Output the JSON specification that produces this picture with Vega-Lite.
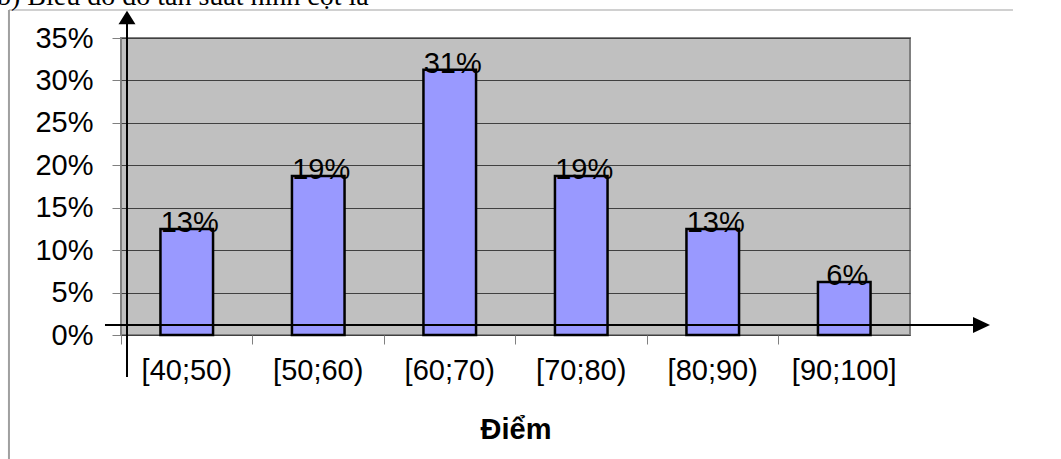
{
  "$schema": "https://vega.github.io/schema/vega-lite/v6.json",
  "width": 789,
  "height": 297,
  "autosize": "none",
  "padding": {"left": 121, "top": 38, "right": 151, "bottom": 124},
  "background": "white",
  "config": {
    "view": {"stroke": "#808080", "strokeWidth": 2, "fill": "#c0c0c0"},
    "font": "Liberation Sans"
  },
  "title": {
    "text": "b) Biểu đồ đo tần suất hình cột là",
    "font": "Liberation Serif",
    "fontSize": 28,
    "fontWeight": "normal",
    "color": "black",
    "anchor": "start",
    "frame": "group",
    "baseline": "alphabetic",
    "offset": 3,
    "dx": -124,
    "dy": 27
  },
  "datasets": {
    "bars": [
      {"bin": "[40;50)", "value": 0.125},
      {"bin": "[50;60)", "value": 0.1875},
      {"bin": "[60;70)", "value": 0.3125},
      {"bin": "[70;80)", "value": 0.1875},
      {"bin": "[80;90)", "value": 0.125},
      {"bin": "[90;100]", "value": 0.0625}
    ],
    "arrows": [
      {"x": -0.0203, "x2": 1.082, "y": 0.0118, "y2": 0.0118},
      {"x": 0.0076, "x2": 0.0076, "y": -0.0495, "y2": 0.3665}
    ],
    "headRight": [{"x": 1.0906, "y": 0.0118}],
    "headUp": [{"x": 0.0076, "y": 0.3742}],
    "frameTop": [{"x": -0.142, "x2": 1.1305, "y": 0.383, "y2": 0.383}],
    "frameLeft": [{"x": -0.142, "x2": -0.142, "y": 0.383, "y2": -0.1461}]
  },
  "layer": [
    {
      "data": {"name": "bars"},
      "encoding": {
        "x": {
          "field": "bin",
          "type": "nominal",
          "sort": null,
          "scale": {"paddingInner": 0, "paddingOuter": 0},
          "axis": {
            "title": "Điểm",
            "labelAngle": 0,
            "labelFontSize": 29,
            "labelColor": "black",
            "labelPadding": 12,
            "ticks": true,
            "bandPosition": 0,
            "tickColor": "#808080",
            "tickSize": 9,
            "tickWidth": 1,
            "tickOpacity": 1,
            "domain": false,
            "grid": false,
            "titleFontSize": 29,
            "titleFontWeight": "bold",
            "titleColor": "black",
            "titleBaseline": "alphabetic",
            "titleY": 103
          }
        },
        "y": {
          "field": "value",
          "type": "quantitative",
          "scale": {"domain": [0, 0.35], "nice": false},
          "axis": {
            "title": null,
            "format": ".0%",
            "values": [0, 0.05, 0.1, 0.15, 0.2, 0.25, 0.3, 0.35],
            "labelFontSize": 29,
            "labelColor": "black",
            "labelPadding": 19,
            "ticks": true,
            "tickColor": "#808080",
            "tickSize": 9,
            "domain": false,
            "grid": true,
            "gridColor": "#404040",
            "gridWidth": 1
          }
        }
      },
      "layer": [
        {"mark": {"type": "bar", "fill": "#9999ff", "stroke": "black", "strokeWidth": 2.5, "width": {"band": 0.4}}},
        {
          "mark": {"type": "text", "fontSize": 29, "baseline": "alphabetic", "align": "center", "dy": 3, "dx": 3, "color": "black"},
          "encoding": {"text": {"field": "value", "format": ".0%"}}
        }
      ]
    },
    {
      "layer": [
        {
          "data": {"name": "frameTop"},
          "mark": {"type": "rule", "stroke": "#d0d0d0", "strokeWidth": 2},
          "encoding": {
            "x": {"field": "x", "type": "quantitative", "scale": {"domain": [0, 1], "nice": false, "zero": false}, "axis": null},
            "x2": {"field": "x2"},
            "y": {"field": "y", "type": "quantitative"},
            "y2": {"field": "y2"}
          }
        },
        {
          "data": {"name": "frameLeft"},
          "mark": {"type": "rule", "stroke": "#a0a0a0", "strokeWidth": 2},
          "encoding": {
            "x": {"field": "x", "type": "quantitative", "axis": null},
            "x2": {"field": "x2"},
            "y": {"field": "y", "type": "quantitative"},
            "y2": {"field": "y2"}
          }
        },
        {
          "data": {"name": "arrows"},
          "mark": {"type": "rule", "stroke": "black", "strokeWidth": 2},
          "encoding": {
            "x": {"field": "x", "type": "quantitative", "axis": null},
            "x2": {"field": "x2"},
            "y": {"field": "y", "type": "quantitative"},
            "y2": {"field": "y2"}
          }
        },
        {
          "data": {"name": "headRight"},
          "mark": {"type": "point", "shape": "M-1,-0.95L1,0L-1,0.95Z", "size": 289, "filled": true, "color": "black", "opacity": 1},
          "encoding": {
            "x": {"field": "x", "type": "quantitative", "axis": null},
            "y": {"field": "y", "type": "quantitative"}
          }
        },
        {
          "data": {"name": "headUp"},
          "mark": {"type": "point", "shape": "M0,-0.8L1,0.8L-1,0.8Z", "size": 289, "filled": true, "color": "black", "opacity": 1},
          "encoding": {
            "x": {"field": "x", "type": "quantitative", "axis": null},
            "y": {"field": "y", "type": "quantitative"}
          }
        }
      ]
    }
  ],
  "resolve": {"scale": {"x": "independent"}, "axis": {"x": "independent"}}
}
